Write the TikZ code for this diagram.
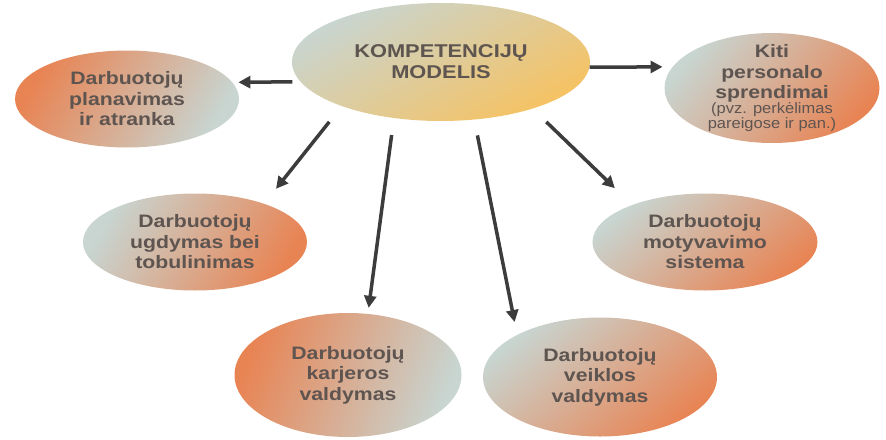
\documentclass[tikz,border=0pt]{standalone}
\usepackage{fontspec}
\setmainfont{Liberation Sans}[FakeStretch=1.18]
\newfontfamily\notefont{Liberation Sans}[FakeStretch=1.1]
\usepackage{xcolor}
\usepackage{tikz}
\usetikzlibrary{arrows.meta}
\usetikzlibrary{shapes.geometric}

\definecolor{peach}{RGB}{232,132,84}
\definecolor{haze}{RGB}{200,213,209}
\definecolor{sand}{RGB}{246,194,98}
\definecolor{ink}{RGB}{94,84,80}
\definecolor{shaft}{RGB}{60,60,60}

\newcommand{\pastaba}[1]{{\notefont\mdseries\fontsize{15}{15}\selectfont #1}}

\begin{document}
\begin{tikzpicture}[x=1pt,y=-1pt,>={Triangle[length=12pt,width=12pt]},
                    bubble/.style={ellipse,align=center,text=ink,
                        font=\bfseries\fontsize{18}{20.5}\selectfont,
                        inner xsep=-15pt,inner ysep=-15pt},
                    warm/.style={top color=peach,bottom color=haze,shading angle=#1},
                    cool/.style={top color=haze,bottom color=peach,shading angle=#1},
                    link/.style={->,line width=3.5pt,draw=shaft}]

    \useasboundingbox (0,0) rectangle (886,439);

    \node[bubble, top color=haze, bottom color=sand, shading angle=30,
          minimum width=298pt, minimum height=118pt,
          font=\bfseries\fontsize{18.5}{21}\selectfont] (model) at (441,62) {KOMPETENCIJŲ\\MODELIS};

    \node[bubble, warm=60, minimum width=224pt, minimum height=97pt] (plan) at (127,99) {Darbuotojų\\planavimas\\ir atranka};
    \node[bubble, cool=50, minimum width=215pt, minimum height=110pt] (kiti) at (772,88)
        {Kiti\\personalo\\sprendimai\\[-6pt]\pastaba{(pvz. perkėlimas}\\[-5.5pt]\pastaba{pareigose ir pan.)}};
    \node[bubble, cool=60, minimum width=224pt, minimum height=97pt] (ugdy) at (195,242) {Darbuotojų\\ugdymas bei\\tobulinimas};
    \node[bubble, cool=40, minimum width=225pt, minimum height=97pt] (moty) at (705,242) {Darbuotojų\\motyvavimo\\sistema};
    \node[bubble, warm=70, minimum width=227pt, minimum height=124pt] (karj) at (348,375) {Darbuotojų\\karjeros\\valdymas};
    \node[bubble, cool=40, minimum width=234pt, minimum height=119pt] (veik) at (600,377) {Darbuotojų\\veiklos\\valdymas};

    \path[every edge/.append style={link}]
        (model.188) edge [shorten <=8pt,shorten >=6pt] (plan.9)
        (model.358) edge [shorten >=10pt] (kiti.168)
        (model.204) edge [shorten <=20pt,shorten >=19pt] (ugdy.29)
        (model.230) edge [shorten <=17pt,shorten >=6pt] (karj.72)
        (model.300) edge [shorten <=16pt,shorten >=13pt] (veik.153)
        (model.333) edge [shorten <=19pt,shorten >=24pt] (moty.153);
\end{tikzpicture}
\end{document}
